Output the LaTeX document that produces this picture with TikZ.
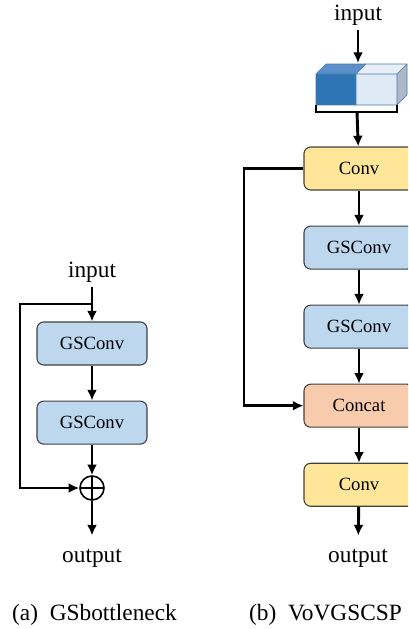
\documentclass[tikz,border=0pt]{standalone}
\usepackage{fontspec}
\setmainfont{Liberation Serif}
\newfontfamily\figfont{Liberation Serif}
\usetikzlibrary{arrows.meta,positioning}

\definecolor{gsblue}{HTML}{BDD7EE}
\definecolor{convyellow}{HTML}{FFE699}
\definecolor{catorange}{HTML}{F8CBAD}
\definecolor{cubedark}{HTML}{2E75B6}
\definecolor{cubedarktop}{HTML}{5B8FC9}
\definecolor{cubelight}{HTML}{DEEAF6}
\definecolor{cubelighttop}{HTML}{E9EFF7}
\definecolor{cubeside}{HTML}{ADB9CA}
\definecolor{cubeedge}{HTML}{4A78A8}

\begin{document}
\begin{tikzpicture}[
    x=0.75pt, y=-0.75pt,
    node distance=26.25pt,
    block/.style={rectangle, rounded corners=5pt, draw=black!75, line width=0.8pt, minimum width=82.5pt, minimum height=32.25pt, align=center, font=\figfont\fontsize{14}{16}\selectfont},
    gsconv/.style={block, fill=gsblue},
    convbox/.style={block, fill=convyellow},
    catbox/.style={block, fill=catorange},
    iolabel/.style={font=\figfont\fontsize{17.5}{20}\selectfont, inner sep=0pt, outer sep=4pt, anchor=base},
    caption/.style={font=\figfont\fontsize{17.5}{20}\selectfont, inner sep=0pt, anchor=base},
    sum/.style={circle, draw, line width=1.2pt, minimum size=18pt, inner sep=0pt,
        path picture={\draw[line width=1.2pt] (path picture bounding box.north) -- (path picture bounding box.south)
            (path picture bounding box.west) -- (path picture bounding box.east);}},
    arrow/.style={-{Latex[length=8pt, width=7.5pt]}, line width=2.2pt},
    link/.style={line width=2.2pt}
]
\clip (0,0) rectangle (408,629);

% (a) GSbottleneck
\node[iolabel] (inA) at (92,277) {input};
\node[gsconv] (gsA1) at (92,343.5) {GSConv};
\node[gsconv, below=of gsA1] (gsA2) {GSConv};
\node[sum] (add) at (92,488) {};
\node[iolabel] (outA) at (92,562) {output};
\node[caption] (capA) at (94.5,620) {(a)\ \ GSbottleneck};

\coordinate (splitA) at (92,304);
\coordinate (loopA) at (20,304);

\draw[arrow] (inA) -- (gsA1);
\draw[arrow] (gsA1) -- (gsA2);
\draw[arrow] (gsA2) -- (add);
\draw[arrow, shorten >=6pt] (add) -- (outA);
\draw[arrow] (splitA) -- (loopA) |- (add);

% (b) VoVGSCSP
\node[iolabel] (inB) at (358,20) {input};

% split block
\fill[cubedark] (316,74) rectangle (356,105);
\fill[cubelight] (356,74) rectangle (397,105);
\fill[cubedarktop] (316,74) -- (326,64) -- (366,64) -- (356,74) -- cycle;
\fill[cubelighttop] (356,74) -- (366,64) -- (407,64) -- (397,74) -- cycle;
\fill[cubeside] (397,74) -- (407,64) -- (407,95) -- (397,105) -- cycle;
\draw[cubeedge, line width=0.5pt, line join=round]
    (316,74) rectangle (397,105) (356,74) -- (356,105)
    (316,74) -- (326,64) -- (407,64) -- (407,95) -- (397,105)
    (397,74) -- (407,64) (356,74) -- (366,64);
\coordinate (cubetop) at (358,63);
\coordinate (brk) at (357,112);
\draw[link] (316,105) |- (brk) -| (397,105);

\node[convbox] (convB1) at (359,168.5) {Conv};
\node[gsconv, below=of convB1] (gsB1) {GSConv};
\node[gsconv, below=of gsB1] (gsB2) {GSConv};
\node[catbox, below=of gsB2] (catB) {Concat};
\node[convbox, below=of catB] (convB2) {Conv};
\node[iolabel] (outB) at (358,562) {output};
\node[caption] (capB) at (325.5,620) {(b)\ \ VoVGSCSP};

\coordinate (loopB) at (244,168.5);

\draw[arrow] (inB) -- (cubetop);
\draw[arrow] (brk) -- (convB1);
\draw[arrow] (convB1) -- (gsB1);
\draw[arrow] (gsB1) -- (gsB2);
\draw[arrow] (gsB2) -- (catB);
\draw[arrow] (catB) -- (convB2);
\draw[arrow, shorten >=6pt] (convB2) -- (outB);
\draw[arrow] (convB1.west) -- (loopB) |- (catB);
\end{tikzpicture}
\end{document}
